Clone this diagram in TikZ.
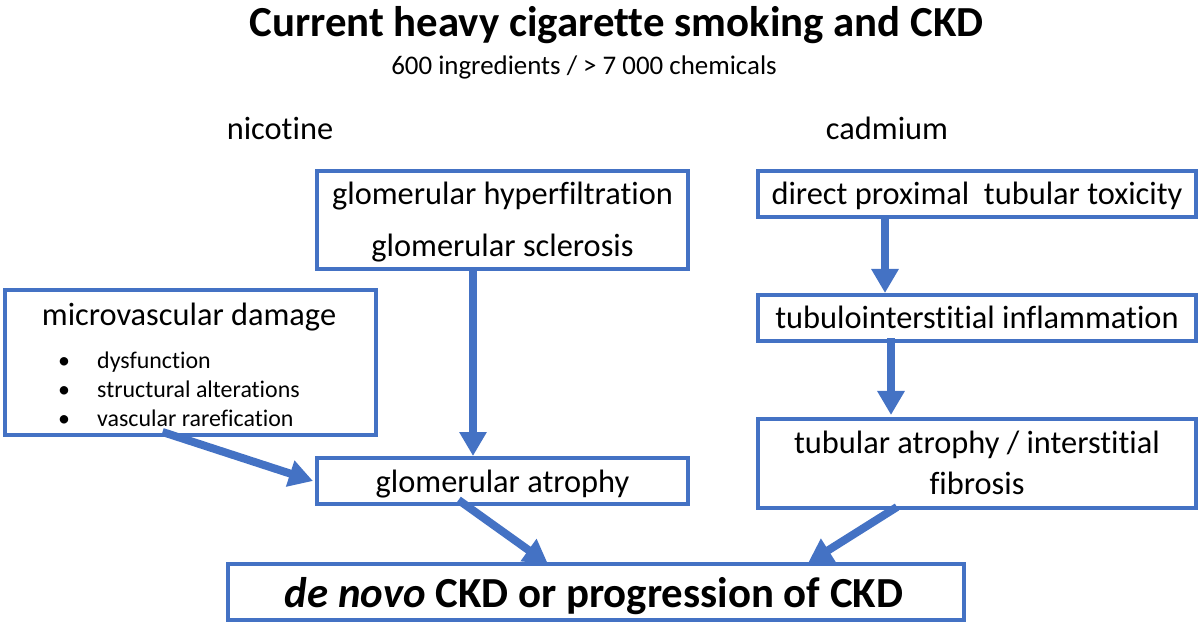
\documentclass[tikz,border=0pt]{standalone}
\usepackage{fontspec}
\setmainfont[Ligatures={NoCommon}]{Carlito}
\usetikzlibrary{arrows.meta,calc}
\definecolor{obl}{HTML}{4472C4}
\tikzset{
  box/.style={draw=obl,line width=4bp,inner sep=0pt,fill=white},
  txt/.style={inner sep=0pt,anchor=base,font=\fontsize{32.5}{34}\selectfont},
  small/.style={inner sep=0pt,anchor=base west,font=\fontsize{24}{26}\selectfont},
  arr/.style={draw=obl,line width=8bp,-{Triangle[width=26bp,length=24bp]}},
}
\begin{document}
\begin{tikzpicture}[x=1bp,y=-1bp]
\useasboundingbox (0,0) rectangle (1200,628);
% title
\node[inner sep=0pt,anchor=base,font=\bfseries\fontsize{43}{45}\selectfont] (title) at (616.5,37) {Current heavy cigarette smoking and CKD};
\node[inner sep=0pt,anchor=base,font=\fontsize{27}{29}\selectfont] (sub) at (584,75) {600 ingredients / > 7 000 chemicals};
\node[txt] (nic) at (280,140) {nicotine};
\node[txt] (cad) at (887,140) {cadmium};
% boxes
\node[box,minimum width=371bp,minimum height=98bp] (hyper) at (502.5,220) {};
\node[txt] (h1) at (502.5,205) {glomerular hyperfiltration};
\node[txt] (h2) at (502.5,257) {glomerular sclerosis};
\node[box,minimum width=371bp,minimum height=46bp] (atrG) at (502.5,481) {};
\node[txt] (a1) at (502.5,492) {glomerular atrophy};
\node[box,minimum width=371bp,minimum height=145bp] (micro) at (190.5,362.5) {};
\node[txt] (m1) at (189,326) {microvascular damage};
\node[small] (b1) at (58,368) {\textbullet};
\node[small] (b2) at (58,397) {\textbullet};
\node[small] (b3) at (58,426) {\textbullet};
\node[small] (t1) at (97,368) {dysfunction};
\node[small] (t2) at (97,397) {structural alterations};
\node[small] (t3) at (97,426) {vascular rarefication};
\node[box,minimum width=438bp,minimum height=46bp] (prox) at (977,194) {};
\node[txt] (p1) at (977,205) {direct proximal\ \ tubular toxicity};
\node[box,minimum width=438bp,minimum height=46bp] (tinf) at (977,318) {};
\node[txt] (i1) at (977,329) {tubulointerstitial inflammation};
\node[box,minimum width=438bp,minimum height=89bp] (tatr) at (977,463.5) {};
\node[txt] (r1) at (977,453) {tubular atrophy / interstitial};
\node[txt] (r2) at (977,494) {fibrosis};
\node[box,minimum width=736bp,minimum height=56bp] (ckd) at (596,592) {};
\node[inner sep=0pt,anchor=base,font=\bfseries\fontsize{43}{45}\selectfont] (c1) at (594,607) {\textit{de novo} CKD or progression of CKD};
% arrows
\draw[arr] ([xshift=-29.5bp,yshift=4bp]hyper.south) -- ([xshift=-29.5bp]atrG.north);
\draw[arr] ([xshift=-92bp]prox.south) -- ([xshift=-92bp]tinf.north);
\draw[arr] ([xshift=-86bp,yshift=5bp]tinf.south) -- ([xshift=-86bp,yshift=2bp]tatr.north);
\draw[arr] ([xshift=-28bp,yshift=5bp]micro.south) -- ([xshift=-2bp]atrG.west);
\draw[arr] ([xshift=-44bp,yshift=6bp]atrG.south) -- ([xshift=-48bp,yshift=-2bp]ckd.north);
\draw[arr] ([xshift=-80bp,yshift=3bp]tatr.south) -- ([xshift=212bp,yshift=-1bp]ckd.north);
\end{tikzpicture}
\end{document}
